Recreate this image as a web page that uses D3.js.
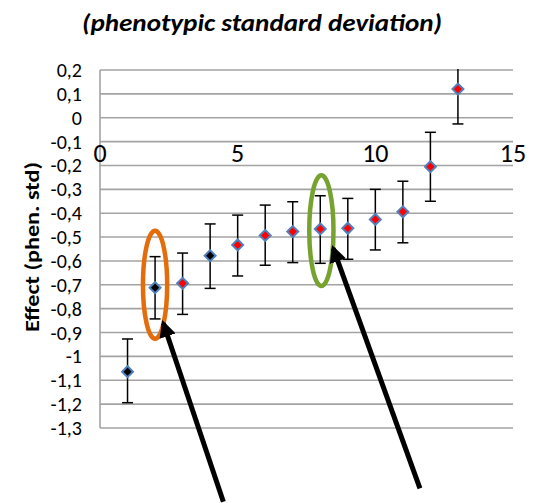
<!DOCTYPE html>
<html lang="en">
<head>
<meta charset="UTF-8">
<title>Effect (phen. std)</title>
<script src="https://cdnjs.cloudflare.com/ajax/libs/d3/7.8.5/d3.min.js"></script>
<style>
    body { margin: 0; background: #fff; }
    svg { display: block; font-family: Carlito, Lato, sans-serif; }
    .grid line { stroke: #a3a3a3; stroke-width: 1.6px; }
    .ytick { font-size: 20px; fill: #000; }
    .xtick { font-size: 26px; fill: #000; }
</style>
</head>
<body>
<svg id="chart" width="537" height="503"></svg>
<script>
    // values
    const positions = [1, 2, 3, 4, 5, 6, 7, 8, 9, 10, 11, 12, 13];
    const effects   = [-1.064, -0.712, -0.694, -0.578, -0.533, -0.493, -0.477, -0.466, -0.463, -0.426, -0.394, -0.205, 0.12];
    const lowerCI   = [-1.194, -0.843, -0.824, -0.715, -0.663, -0.618, -0.607, -0.610, -0.593, -0.554, -0.524, -0.350, -0.026];
    const upperCI   = [-0.927, -0.582, -0.567, -0.445, -0.408, -0.366, -0.352, -0.327, -0.338, -0.300, -0.266, -0.061, 0.266];
    const darkPoints = [1, 2, 4];
    const yTicks = d3.range(2, -14, -1).map(d => d / 10);
    const xTicks = [0, 5, 10, 15];
    // annotations in data units
    const ellipses = [
        { cx: 2.0, cy: -0.70, rx: 0.44, ry: 0.226, color: "#e46c0a" },
        { cx: 8.04, cy: -0.473, rx: 0.44, ry: 0.232, color: "#77a22f" }
    ];
    const arrows = [
        { from: [4.48, -1.609], to: [2.30, -0.861] },
        { from: [11.62, -1.553], to: [8.47, -0.547] }
    ];

    const svg = d3.select("#chart");
    const x = d3.scaleLinear().domain([0, 15]).range([100, 513]);
    const y = d3.scaleLinear().domain([-1.3, 0.2]).range([428, 70]);

    svg.append("defs").append("marker")
        .attr("id", "head")
        .attr("viewBox", "0 0 10 10")
        .attr("refX", 8).attr("refY", 5)
        .attr("markerWidth", 3.4).attr("markerHeight", 3.4)
        .attr("markerUnits", "strokeWidth")
        .attr("orient", "auto")
        .append("path").attr("d", "M0,0 L10,5 L0,10 Z").attr("fill", "#000");

    svg.append("clipPath").attr("id", "plotclip")
        .append("rect").attr("x", 95).attr("y", 69).attr("width", 430).attr("height", 362);

    // title
    svg.append("text")
        .attr("x", 262).attr("y", 31)
        .attr("text-anchor", "middle")
        .attr("textLength", 360).attr("lengthAdjust", "spacingAndGlyphs")
        .style("font-size", "24px").style("font-weight", "bold").style("font-style", "italic")
        .text("(phenotypic standard deviation)");

    // gridlines
    const grid = svg.append("g").attr("class", "grid");
    grid.selectAll("line.h").data(yTicks).enter().append("line")
        .attr("x1", x(0)).attr("x2", x(15))
        .attr("y1", d => y(d)).attr("y2", d => y(d));
    grid.append("line")
        .attr("x1", x(0)).attr("x2", x(0))
        .attr("y1", y(0.2)).attr("y2", y(-1.3));

    // y tick labels
    const fmt = d => (Math.round(d * 10) / 10).toString().replace(".", ",");
    svg.selectAll("text.ytick").data(yTicks).enter().append("text")
        .attr("class", "ytick")
        .attr("x", 82).attr("y", d => y(d))
        .attr("dy", "0.35em")
        .attr("text-anchor", "end")
        .text(fmt);

    // x tick labels sit under the -0,1 line
    svg.selectAll("text.xtick").data(xTicks).enter().append("text")
        .attr("class", "xtick")
        .attr("x", d => x(d)).attr("y", y(-0.1) + 20)
        .attr("text-anchor", "middle")
        .text(d => d);

    // y axis title
    svg.append("text")
        .attr("transform", `translate(39,${247}) rotate(-90)`)
        .attr("text-anchor", "middle")
        .attr("textLength", 170).attr("lengthAdjust", "spacingAndGlyphs")
        .style("font-size", "21px").style("font-weight", "bold")
        .text("Effect (phen. std)");

    // error bars
    const bars = svg.append("g").attr("clip-path", "url(#plotclip)");
    const cap = 5.5;
    positions.forEach((p, i) => {
        const g = bars.append("g").attr("stroke", "#000").attr("stroke-width", 1.5);
        g.append("line").attr("x1", x(p)).attr("x2", x(p)).attr("y1", y(lowerCI[i])).attr("y2", y(upperCI[i]));
        g.append("line").attr("x1", x(p) - cap).attr("x2", x(p) + cap).attr("y1", y(lowerCI[i])).attr("y2", y(lowerCI[i]));
        g.append("line").attr("x1", x(p) - cap).attr("x2", x(p) + cap).attr("y1", y(upperCI[i])).attr("y2", y(upperCI[i]));
    });

    // diamond markers
    const diamond = d3.symbol().type(d3.symbolSquare).size(60);
    svg.selectAll("path.pt").data(positions).enter().append("path")
        .attr("d", diamond)
        .attr("transform", (p, i) => `translate(${x(p)},${y(effects[i])}) rotate(45)`)
        .attr("fill", p => darkPoints.includes(p) ? "#000" : "#ff0000")
        .attr("stroke", "#4f81bd")
        .attr("stroke-width", 2);

    // ellipses
    svg.selectAll("ellipse").data(ellipses).enter().append("ellipse")
        .attr("cx", d => x(d.cx)).attr("cy", d => y(d.cy))
        .attr("rx", d => x(d.cx + d.rx) - x(d.cx))
        .attr("ry", d => y(d.cy - d.ry) - y(d.cy))
        .attr("fill", "none")
        .attr("stroke", d => d.color)
        .attr("stroke-width", 4.5);

    // arrows
    svg.selectAll("line.arrow").data(arrows).enter().append("line")
        .attr("x1", d => x(d.from[0])).attr("y1", d => y(d.from[1]))
        .attr("x2", d => x(d.to[0])).attr("y2", d => y(d.to[1]))
        .attr("stroke", "#000").attr("stroke-width", 5)
        .attr("marker-end", "url(#head)");
</script>
</body>
</html>
